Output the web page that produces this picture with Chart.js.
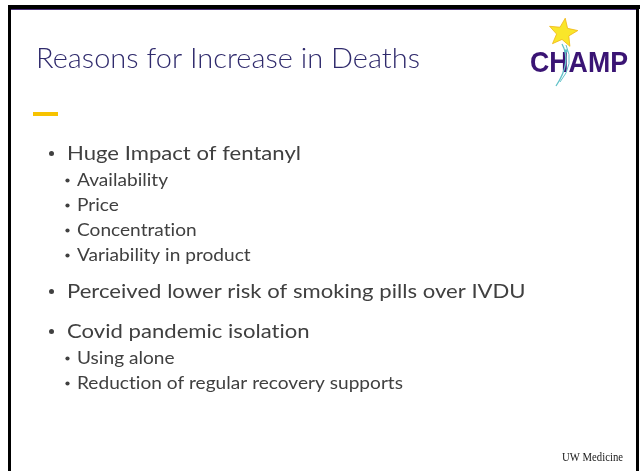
<!DOCTYPE html>
<html>
<head>
<meta charset="utf-8">
<script src="https://cdn.jsdelivr.net/npm/chart.js@4"></script>
<style>
  html, body { margin: 0; padding: 0; background: #fff; }
  #wrap { width: 640px; height: 471px; }
</style>
</head>
<body>
<div id="wrap"><canvas id="slide" width="640" height="471"></canvas></div>
<script>
// slide content
const slideTitle = "Reasons for Increase in Deaths";
const mainPoints = ["Huge Impact of fentanyl", "Perceived lower risk of smoking pills over IVDU", "Covid pandemic isolation"];
const fentanylPoints = ["Availability", "Price", "Concentration", "Variability in product"];
const covidPoints = ["Using alone", "Reduction of regular recovery supports"];
const logoText = "CHAMP";
const footerText = "UW Medicine";

// build the outline rows (level 0 = main bullet, level 1 = sub bullet)
const rows = [];
rows.push({ text: mainPoints[0], level: 0 });
fentanylPoints.forEach(t => rows.push({ text: t, level: 1 }));
rows.push({ text: mainPoints[1], level: 0 });
rows.push({ text: mainPoints[2], level: 0 });
covidPoints.forEach(t => rows.push({ text: t, level: 1 }));

const bodyColor = '#404040';

// draw text squeezed horizontally so it takes the width of the original font
function drawText(ctx, text, x, y, font, color, sx) {
    ctx.save();
    ctx.font = font;
    ctx.letterSpacing = '0.01px'; // no "ti" ligature
    ctx.fillStyle = color;
    ctx.textBaseline = 'alphabetic';
    ctx.translate(x, y);
    ctx.scale(sx, 1);
    ctx.fillText(text, 0, 0);
    ctx.restore();
}

function fitScale(ctx, font, ref, width) {
    ctx.save();
    ctx.font = font;
    ctx.letterSpacing = '0.01px';
    const w = ctx.measureText(ref).width;
    ctx.restore();
    return width / w;
}

function drawStar(ctx, cx, cy, R, r, rot) {
    ctx.beginPath();
    for (let i = 0; i < 10; i++) {
        const rad = i % 2 === 0 ? R : r;
        const a = rot - Math.PI / 2 + i * Math.PI / 5;
        const px = cx + rad * Math.cos(a);
        const py = cy + rad * Math.sin(a);
        if (i === 0) ctx.moveTo(px, py); else ctx.lineTo(px, py);
    }
    ctx.closePath();
    ctx.fillStyle = '#f9e62a';
    ctx.fill();
    ctx.strokeStyle = '#f0b514';
    ctx.lineWidth = 0.8;
    ctx.stroke();
}

const slidePlugin = {
    id: 'slide',
    afterDraw(chart) {
        const ctx = chart.ctx;
        ctx.save();

        // frame
        ctx.fillStyle = '#000';
        ctx.fillRect(8, 5, 632, 4);
        ctx.fillRect(8, 5, 3, 466);
        ctx.fillRect(636, 5, 3, 466);
        ctx.fillStyle = '#ffffff';
        ctx.fillRect(639, 9, 1, 462);
        ctx.fillStyle = '#4a2f7c';
        ctx.fillRect(11, 9, 625, 1);

        // title
        const titleFont = '300 28px Lato';
        drawText(ctx, slideTitle, 36, 67.5, titleFont, '#2f2a6c', fitScale(ctx, titleFont, slideTitle, 384));

        // yellow accent
        ctx.fillStyle = '#f7c300';
        ctx.fillRect(33, 112, 25, 4);

        // bullets
        const mainFont = '400 19.5px Lato';
        const subFont = '400 16.5px Lato';
        const mainSx = fitScale(ctx, mainFont, mainPoints[0], 234);
        const subSx = fitScale(ctx, subFont, covidPoints[1], 326);
        let y = 160;
        rows.forEach((row, i) => {
            if (i > 0) {
                const prev = rows[i - 1].level;
                if (row.level === 1) y += prev === 0 ? 26 : 25;
                else y += prev === 0 ? 40 : 37;
            }
            if (row.level === 0) {
                ctx.fillStyle = bodyColor;
                ctx.beginPath();
                ctx.arc(51.5, y - 6.5, 2.5, 0, Math.PI * 2);
                ctx.fill();
                drawText(ctx, row.text, 67, y, mainFont, bodyColor, mainSx);
            } else {
                ctx.fillStyle = bodyColor;
                ctx.beginPath();
                ctx.arc(67.5, y - 5.5, 2.1, 0, Math.PI * 2);
                ctx.fill();
                drawText(ctx, row.text, 77, y, subFont, bodyColor, subSx);
            }
        });

        // logo
        const logoFont = '700 30px "Liberation Sans"';
        drawText(ctx, logoText, 530, 72, logoFont, '#3a1474', fitScale(ctx, logoFont, logoText, 98));
        drawStar(ctx, 563, 33, 15, 6.5, 0.15);
        ctx.strokeStyle = '#62c2c8';
        ctx.lineWidth = 1.3;
        ctx.beginPath();
        ctx.moveTo(562, 44);
        ctx.quadraticCurveTo(572, 62, 556, 86);
        ctx.stroke();
        ctx.lineWidth = 1;
        ctx.beginPath();
        ctx.moveTo(566, 45);
        ctx.quadraticCurveTo(575, 64, 560, 82);
        ctx.stroke();
        ctx.beginPath();
        ctx.arc(566, 51, 1.8, 0, Math.PI * 2);
        ctx.fillStyle = '#62c2c8';
        ctx.fill();

        // footer
        const footFont = '400 13px "Liberation Serif"';
        drawText(ctx, footerText, 562, 461, footFont, '#1a1a1a', fitScale(ctx, footFont, footerText, 61));

        ctx.restore();
    }
};

new Chart(document.getElementById('slide'), {
    type: 'scatter',
    data: { datasets: [] },
    options: {
        responsive: false,
        animation: false,
        events: [],
        plugins: { legend: { display: false }, tooltip: { enabled: false } },
        scales: { x: { display: false }, y: { display: false } }
    },
    plugins: [slidePlugin]
});
</script>
</body>
</html>
